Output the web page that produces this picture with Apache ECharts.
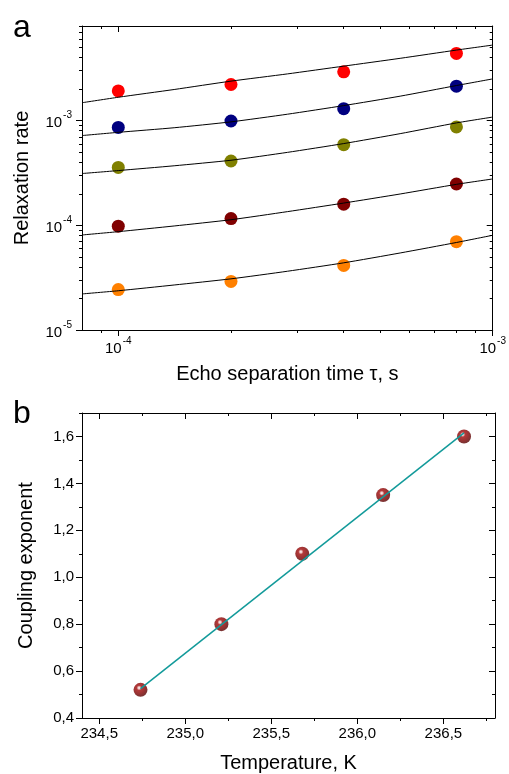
<!DOCTYPE html>
<html>
<head>
<meta charset="utf-8">
<script src="https://cdn.jsdelivr.net/npm/echarts@6/dist/echarts.min.js"></script>
<style>
  html, body { margin: 0; padding: 0; background: #fff; }
  #chart { width: 509px; height: 774px; }
</style>
</head>
<body>
<div id="chart"></div>
<script>
// panel a: relaxation rate vs echo separation time
const tau = [1e-4, 2e-4, 4e-4, 8e-4]
const rateRed    = [1.92e-3, 2.21e-3, 2.92e-3, 4.38e-3]
const rateNavy   = [8.6e-4, 9.9e-4, 1.30e-3, 2.13e-3]
const rateOlive  = [3.57e-4, 4.11e-4, 5.89e-4, 8.7e-4]
const rateMaroon = [0.98e-4, 1.16e-4, 1.59e-4, 2.48e-4]
const rateOrange = [2.43e-5, 2.91e-5, 4.14e-5, 6.98e-5]

// fit curves
const tauFit = [8e-5, 1e-4, 1.41e-4, 2e-4, 2.83e-4, 4e-4, 5.66e-4, 8e-4, 1e-3]
const fitRed    = [1.48e-3, 1.67e-3, 1.98e-3, 2.38e-3, 2.79e-3, 3.31e-3, 3.93e-3, 4.71e-3, 5.26e-3]
const fitNavy   = [7.19e-4, 7.72e-4, 8.54e-4, 9.72e-4, 1.15e-3, 1.39e-3, 1.71e-3, 2.16e-3, 2.50e-3]
const fitOlive  = [3.12e-4, 3.33e-4, 3.70e-4, 4.18e-4, 4.97e-4, 6.03e-4, 7.50e-4, 9.50e-4, 1.08e-3]
const fitMaroon = [8.08e-5, 8.69e-5, 9.85e-5, 1.13e-4, 1.35e-4, 1.63e-4, 1.99e-4, 2.46e-4, 2.77e-4]
const fitOrange = [2.21e-5, 2.37e-5, 2.69e-5, 3.08e-5, 3.64e-5, 4.38e-5, 5.44e-5, 6.85e-5, 8.03e-5]

const tauTicks = [1e-4, 1e-3]
const tauMinor = [9e-5, 2e-4, 3e-4, 4e-4, 5e-4, 6e-4, 7e-4, 8e-4, 9e-4]
const rateTicks = [1e-5, 1e-4, 1e-3]
const rateMinor = [2e-5, 3e-5, 4e-5, 5e-5, 6e-5, 7e-5, 8e-5, 9e-5,
                   2e-4, 3e-4, 4e-4, 5e-4, 6e-4, 7e-4, 8e-4, 9e-4,
                   2e-3, 3e-3, 4e-3, 5e-3, 6e-3, 7e-3, 8e-3]

// panel b: coupling exponent vs temperature
const temperature = [234.74, 235.21, 235.68, 236.15, 236.62]
const exponent    = [0.52, 0.80, 1.10, 1.35, 1.60]
const fitTemp = [234.74, 236.62]
const fitExp  = [0.525, 1.615]
const tempTicks = [234.5, 235.0, 235.5, 236.0, 236.5]
const tempMinor = [234.75, 235.25, 235.75, 236.25, 236.75]
const expTicks  = [0.4, 0.6, 0.8, 1.0, 1.2, 1.4, 1.6]
const expMinor  = [0.5, 0.7, 0.9, 1.1, 1.3, 1.5, 1.7]

const FONT = 'Liberation Sans, Arial, sans-serif'
const black = '#000'

const powLabel = v => '{b|10}{s|' + Math.round(Math.log10(v)) + '}'
const commaLabel = v => v.toFixed(1).replace('.', ',')
const powRich = {
  b: { fontSize: 15, fontFamily: FONT, color: black, lineHeight: 20, verticalAlign: 'bottom' },
  s: { fontSize: 10, fontFamily: FONT, color: black, lineHeight: 20, verticalAlign: 'top', padding: [0, 0, 0, 1] },
}

// one axis = one side of the frame, major or minor ticks
function axis(o) {
  const major = o.minor === undefined
  return {
    gridIndex: o.grid,
    type: o.type,
    min: o.min,
    max: o.max,
    position: o.pos,
    axisLine: { show: major, onZero: false, lineStyle: { color: black, width: 1 } },
    axisTick: {
      show: true,
      inside: o.inside,
      length: major ? 6 : 3,
      customValues: major ? o.ticks : o.minor,
      lineStyle: { color: black, width: 1 },
    },
    axisLabel: o.label ? {
      show: true,
      customValues: o.ticks,
      margin: o.margin,
      formatter: o.label,
      rich: o.rich,
      fontSize: 15,
      fontFamily: FONT,
      color: black,
    } : { show: false },
    splitLine: { show: false },
    name: o.name,
    nameLocation: 'middle',
    nameGap: o.nameGap,
    nameTextStyle: { fontSize: 20, fontFamily: FONT, color: black },
    silent: true,
  }
}

const xa = { grid: 0, type: 'log', min: 8e-5, max: 1e-3, ticks: tauTicks }
const ya = { grid: 0, type: 'log', min: 1e-5, max: 8e-3, ticks: rateTicks }
const xb = { grid: 1, type: 'value', min: 234.4, max: 236.8, ticks: tempTicks }
const yb = { grid: 1, type: 'value', min: 0.4, max: 1.7, ticks: expTicks }

const xAxes = [
  axis({ ...xa, pos: 'bottom', label: powLabel, rich: powRich, margin: 6, name: 'Echo separation time τ, s', nameGap: 34 }),
  axis({ ...xa, pos: 'bottom', minor: tauMinor }),
  axis({ ...xa, pos: 'top', inside: true }),
  axis({ ...xa, pos: 'top', inside: true, minor: tauMinor }),
  axis({ ...xb, pos: 'bottom', label: commaLabel, margin: 8, name: 'Temperature, K', nameGap: 35 }),
  axis({ ...xb, pos: 'bottom', minor: tempMinor }),
  axis({ ...xb, pos: 'top', inside: true }),
  axis({ ...xb, pos: 'top', inside: true, minor: tempMinor }),
]
const yAxes = [
  axis({ ...ya, pos: 'left', label: powLabel, rich: powRich, margin: 10, name: 'Relaxation rate', nameGap: 50 }),
  axis({ ...ya, pos: 'left', minor: rateMinor }),
  axis({ ...ya, pos: 'right', inside: true }),
  axis({ ...ya, pos: 'right', inside: true, minor: rateMinor }),
  axis({ ...yb, pos: 'left', label: commaLabel, margin: 8, name: 'Coupling exponent', nameGap: 46 }),
  axis({ ...yb, pos: 'left', minor: expMinor }),
  axis({ ...yb, pos: 'right', inside: true }),
  axis({ ...yb, pos: 'right', inside: true, minor: expMinor }),
]

const zip = (xs, ys) => xs.map((x, i) => [x, ys[i]])

const dotSeries = (data, color) => ({
  type: 'scatter', xAxisIndex: 0, yAxisIndex: 0, z: 2,
  symbolSize: 13, data: zip(tau, data),
  itemStyle: { color, opacity: 1 },
  silent: true,
})
const fitSeries = data => ({
  type: 'line', xAxisIndex: 0, yAxisIndex: 0, z: 3,
  smooth: 0.2, showSymbol: false, data: zip(tauFit, data),
  lineStyle: { color: black, width: 1 },
  silent: true,
})

const chart = echarts.init(document.getElementById('chart'), null, { renderer: 'canvas' })
chart.setOption({
  animation: false,
  backgroundColor: '#fff',
  textStyle: { fontFamily: FONT },
  grid: [
    { left: 82, top: 26, width: 413, height: 304 },
    { left: 82, top: 413, width: 413, height: 305 },
  ],
  xAxis: xAxes,
  yAxis: yAxes,
  graphic: [
    { type: 'text', left: 13, top: 12, style: { text: 'a', fontSize: 32, fontFamily: FONT, fill: black } },
    { type: 'text', left: 13, top: 398, style: { text: 'b', fontSize: 32, fontFamily: FONT, fill: black } },
  ],
  series: [
    dotSeries(rateRed, '#ff0000'),
    dotSeries(rateNavy, '#000080'),
    dotSeries(rateOlive, '#808000'),
    dotSeries(rateMaroon, '#800000'),
    dotSeries(rateOrange, '#ff8000'),
    fitSeries(fitRed),
    fitSeries(fitNavy),
    fitSeries(fitOlive),
    fitSeries(fitMaroon),
    fitSeries(fitOrange),
    {
      type: 'scatter', xAxisIndex: 4, yAxisIndex: 4, z: 2,
      symbolSize: 14, data: zip(temperature, exponent),
      itemStyle: {
        color: new echarts.graphic.RadialGradient(0.4, 0.36, 0.6, [
          { offset: 0, color: '#ffffff' },
          { offset: 0.14, color: '#e8b0b0' },
          { offset: 0.3, color: '#a00808' },
          { offset: 0.7, color: '#800000' },
          { offset: 1, color: '#5c0000' },
        ]),
      },
      silent: true,
    },
    {
      type: 'line', xAxisIndex: 4, yAxisIndex: 4, z: 3,
      showSymbol: false, data: zip(fitTemp, fitExp),
      lineStyle: { color: '#129a9a', width: 1.5 },
      silent: true,
    },
  ],
})
</script>
</body>
</html>
